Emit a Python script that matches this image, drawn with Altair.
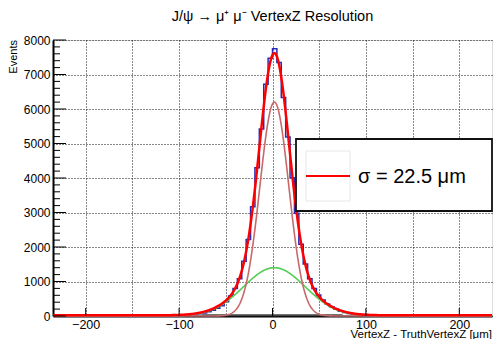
import altair as alt
import numpy as np
import pandas as pd

# ---------------- texts ----------------
title_text = "J/ψ → μ⁺ μ⁻ VertexZ Resolution"
x_title = "VertexZ - TruthVertexZ [μm]"
y_title = "Events"
legend_label = "σ = 22.5 μm"

# ---------------- axes ----------------
x_min, x_max = -235.0, 235.0
y_min, y_max = 0, 8000
n_bins = 100
x_grid_values = [-200, -150, -100, -50, 0, 50, 100, 150, 200]
x_major_ticks = [-200, -100, 0, 100, 200]
y_major_ticks = [0, 1000, 2000, 3000, 4000, 5000, 6000, 7000, 8000]
y_minor_ticks = [v for v in range(0, 8001, 200) if v % 1000 != 0]

# ---------------- histogram (100 bins of 4.7 um) ----------------
hist_counts = [
    0, 0, 0, 0, 0, 0, 0, 0, 0, 0,
    0, 0, 0, 0, 0, 0, 0, 0, 0, 0,
    1, 1, 2, 2, 3, 4, 6, 8, 11, 15,
    21, 30, 45, 62, 88, 120, 165, 225, 300, 410,
    580, 800, 1080, 1590, 2220, 3170, 4300, 5420, 6715, 7470,
    7750, 7350, 6330, 5190, 4010, 2980, 2080, 1510, 1080, 800,
    610, 465, 350, 265, 195, 140, 100, 70, 48, 34,
    24, 17, 12, 9, 6, 5, 4, 3, 2, 2,
    1, 1, 0, 0, 0, 0, 0, 0, 0, 0,
    0, 0, 0, 0, 0, 0, 0, 0, 0, 0,
]

# ---------------- fit components ----------------
narrow_amp, narrow_mean, narrow_sigma = 6200.0, 2.0, 15.5
wide_amp, wide_mean, wide_sigma = 1400.0, 2.0, 33.0
bkg_level = 20.0
bkg_range = [-75.0, 75.0]

# ---------------- build tables ----------------
bin_w = (x_max - x_min) / n_bins
edges = [x_min + i * bin_w for i in range(n_bins + 1)]
hist_df = pd.DataFrame({"x": edges, "y": hist_counts + [hist_counts[-1]]})

xs = np.arange(x_min, x_max + 0.25, 0.5)
narrow = narrow_amp * np.exp(-0.5 * ((xs - narrow_mean) / narrow_sigma) ** 2)
wide = wide_amp * np.exp(-0.5 * ((xs - wide_mean) / wide_sigma) ** 2)
total = narrow + wide + bkg_level
fit_df = pd.DataFrame({"x": xs, "narrow": narrow, "wide": wide, "total": total})
bkg_df = pd.DataFrame({"x": bkg_range, "y": [bkg_level, bkg_level]})

W, H = 439, 276
FONT = "Liberation Sans"

xscale = alt.Scale(domain=[x_min, x_max], nice=False, zero=False)
yscale = alt.Scale(domain=[y_min, y_max], nice=False, zero=False)

x_axis = alt.Axis(
    values=x_grid_values, title=None, grid=True, gridDash=[1, 2],
    gridColor="#111111", gridWidth=1, ticks=False, tickSize=0,
    domainColor="black", domainWidth=2, labelFont=FONT, labelFontSize=12.5,
    labelColor="black", labelPadding=2,
    labelExpr="datum.value % 100 == 0 ? replace(format(datum.value, 'd'), '-', '\u2212') : ''")
y_axis = alt.Axis(
    values=y_major_ticks, title=None, grid=True, gridDash=[1, 2],
    gridColor="#111111", gridWidth=1, ticks=False, tickSize=0,
    domainColor="black", domainWidth=2, labelFont=FONT, labelFontSize=12,
    labelColor="black", labelPadding=3, format="d")

X = lambda f: alt.X(f"{f}:Q", scale=xscale, axis=x_axis)
Y = lambda f: alt.Y(f"{f}:Q", scale=yscale, axis=y_axis)

hist = alt.Chart(hist_df).mark_line(
    interpolate="step-after", color="#2a2ab4", strokeWidth=1.5
).encode(x=X("x"), y=Y("y"))

def curve(field, color, width):
    return alt.Chart(fit_df).mark_line(color=color, strokeWidth=width).encode(
        x=X("x"), y=Y(field))

bkg = alt.Chart(bkg_df).mark_line(color="#444444", strokeWidth=2).encode(x=X("x"), y=Y("y"))
wide_line = curve("wide", "#55cc55", 1.6)
narrow_line = curve("narrow", "#c8696b", 1.6)
total_line = curve("total", "#ff0000", 2.5)

ymaj = alt.Chart(pd.DataFrame({"y": y_major_ticks})).mark_rule(color="black", strokeWidth=1).encode(
    y=Y("y"), x=alt.value(0), x2=alt.value(13))
ymin_ = alt.Chart(pd.DataFrame({"y": y_minor_ticks})).mark_rule(color="black", strokeWidth=1).encode(
    y=Y("y"), x=alt.value(0), x2=alt.value(7))
xmaj = alt.Chart(pd.DataFrame({"x": x_major_ticks})).mark_rule(color="black", strokeWidth=1).encode(
    x=X("x"), y=alt.value(H), y2=alt.value(H - 8))

# legend
leg_df = pd.DataFrame({"label": [legend_label]})
leg_box = alt.Chart(leg_df).mark_rect(fill="white", stroke="#111111", strokeWidth=1.8).encode(
    x=alt.value(243), x2=alt.value(439), y=alt.value(99), y2=alt.value(171))
leg_sym = alt.Chart(leg_df).mark_rect(fill="white", stroke="#e6e6e6", strokeWidth=1).encode(
    x=alt.value(253), x2=alt.value(297), y=alt.value(111), y2=alt.value(161))
leg_line = alt.Chart(leg_df).mark_rule(color="#ff0000", strokeWidth=2).encode(
    x=alt.value(253), x2=alt.value(297), y=alt.value(136))
leg_text = alt.Chart(leg_df).mark_text(
    font=FONT, fontSize=20, align="left", baseline="alphabetic", color="black"
).encode(x=alt.value(305), y=alt.value(142.5), text="label:N")

# titles
t_df = pd.DataFrame({"t": [title_text], "xt": [x_title], "yt": [y_title]})
title_mark = alt.Chart(t_df).mark_text(
    font=FONT, fontSize=14.5, align="center", baseline="alphabetic", color="black"
).encode(x=alt.value(W / 2), y=alt.value(-19), text="t:N")
xtitle_mark = alt.Chart(t_df).mark_text(
    font=FONT, fontSize=11.5, align="right", baseline="alphabetic", color="black"
).encode(x=alt.value(W), y=alt.value(H + 21.5), text="xt:N")
ytitle_mark = alt.Chart(t_df).mark_text(
    font=FONT, fontSize=11, align="right", baseline="middle", angle=270, color="black"
).encode(x=alt.value(-39.5), y=alt.value(0), text="yt:N")

chart = alt.layer(
    hist, bkg, wide_line, narrow_line, total_line,
    ymaj, ymin_, xmaj,
    leg_box, leg_sym, leg_line, leg_text,
    title_mark, xtitle_mark, ytitle_mark,
).properties(
    width=W, height=H,
    autosize=alt.AutoSizeParams(type="none"),
    padding={"left": 45, "top": 32, "right": 1, "bottom": 23},
).configure_view(stroke="black", strokeWidth=1).configure(background="white")

chart.save("out.html", embed_options={"renderer": "svg", "actions": False})
